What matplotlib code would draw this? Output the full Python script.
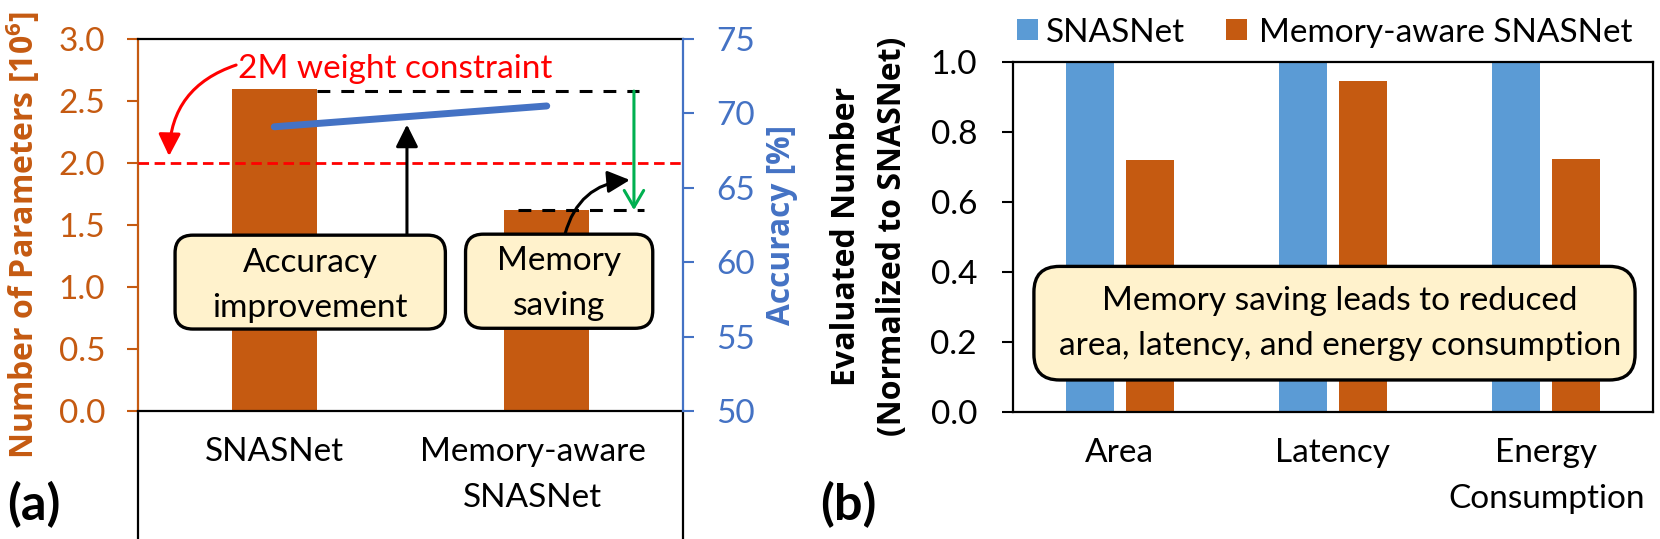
import statistics
import matplotlib
matplotlib.use('Agg')
import matplotlib.pyplot as plt
from matplotlib.patches import FancyBboxPatch, Rectangle
from matplotlib.font_manager import FontProperties
import matplotlib.transforms as mtrans

# ---------------- data ----------------
models = ['SNASNet', 'Memory-aware\nSNASNet']
params_m = [2.6, 1.62]          # number of parameters [10^6]
accuracy = [69.1, 70.5]         # accuracy [%]
weight_limit = 2.0              # 2M weight constraint
left_ticks = [0.0, 0.5, 1.0, 1.5, 2.0, 2.5, 3.0]
right_ticks = [50, 55, 60, 65, 70, 75]

metrics = ['Area', 'Latency', 'Energy\nConsumption']
series_names = ['SNASNet', 'Memory-aware SNASNet']
snasnet_norm = [1.0, 1.0, 1.0]
mem_aware_norm = [0.72, 0.946, 0.722]
b_ticks = [0.0, 0.2, 0.4, 0.6, 0.8, 1.0]

# ---------------- style ----------------
ORANGE = '#C55A11'
BLUE_BAR = '#5B9BD5'
BLUE_LINE = '#4472C4'
BOXFILL = '#FFF2CC'
GREEN = '#00B050'
FONT = 'Lato'
BFONT = 'Open Sans'

plt.rcParams['font.family'] = [FONT, 'DejaVu Sans']
plt.rcParams['mathtext.fontset'] = 'custom'
plt.rcParams['mathtext.rm'] = BFONT
plt.rcParams['mathtext.bf'] = BFONT + ':bold'

W, H = 1660, 539
fig = plt.figure(figsize=(W / 100, H / 100), dpi=100)
renderer = fig.canvas.get_renderer()


def text_w(s, family, weight='normal', size=20, ismath=False):
    fp = FontProperties(family=family, weight=weight, size=size)
    w, h, d = renderer.get_text_width_height_descent(s, fp, ismath=ismath)
    return w


def fit(s, target_px, family=FONT, weight='normal', ismath=False):
    return 20 * target_px / text_w(s, family, weight, 20, ismath)


def ls_for(target_px, size, family=FONT, weight='normal'):
    fp = FontProperties(family=family, weight=weight, size=size)
    w, h, d = renderer.get_text_width_height_descent('lp', fp, ismath=False)
    return (target_px - d) / (h - d)


PX = 100 / 72.0   # pixels per point

# common size for regular text (fit to widths measured on the reference)
samples = [('SNASNet', 139), ('Memory-aware', 240), ('improvement', 195), ('Accuracy', 128),
           ('Memory', 124), ('saving', 90), ('2M weight constraint', 334),
           ('Memory saving leads to reduced', 468),
           ('area, latency, and energy consumption', 560), ('Area', 71), ('Energy', 104),
           ('Consumption', 206), ('Memory-aware SNASNet', 390), ('3.0', 44.5)]
FS = statistics.median(fit(s, t) for s, t in samples)
LS_TICK = ls_for(46, FS)
LS_BOX = ls_for(45, FS)


def fr(x0, y_top, x1, y_bot):
    return [x0 / W, 1 - y_bot / H, (x1 - x0) / W, (y_bot - y_top) / H]


def rbox(ax, x0, y0, x1, y1, r, asp, lw=2.4):
    p = FancyBboxPatch((x0, y0), x1 - x0, y1 - y0,
                       boxstyle=f'round,pad=0,rounding_size={r}', mutation_aspect=asp,
                       facecolor=BOXFILL, edgecolor='black', lw=lw, zorder=7)
    ax.add_patch(p)


# ================= panel (a) =================
axA = fig.add_axes(fr(138, 39, 683, 411))
xa = list(range(len(models)))
bw_a = 0.312
axA.bar(xa, params_m, width=bw_a, color=ORANGE, zorder=2)
axA.set_xlim(-0.5, len(models) - 0.5)
axA.set_ylim(left_ticks[0], left_ticks[-1])
axA.set_yticks(left_ticks)
axA.set_yticklabels([f'{v:.1f}' for v in left_ticks], fontsize=FS, color=ORANGE)
axA.set_xticks(xa)
axA.set_xticklabels(models, fontsize=FS, linespacing=LS_TICK)
axA.tick_params(axis='x', length=0, pad=26 / PX)
axA.tick_params(axis='y', length=11 / PX, width=1.5, color=ORANGE, pad=22 / PX,
                direction='out')
for s in ['top', 'bottom']:
    axA.spines[s].set_color('black')
    axA.spines[s].set_linewidth(1.6)
axA.spines['left'].set_color(ORANGE)
axA.spines['left'].set_linewidth(1.6)
axA.spines['right'].set_visible(False)
lab = axA.get_xticklabels()[1]
lab.set_transform(lab.get_transform() + mtrans.ScaledTranslation(-14 / 100, 0, fig.dpi_scale_trans))

for xx in (0, 1):
    axA.plot([xx, xx], [0, -0.5], transform=axA.transAxes, color='black', lw=1.6,
             clip_on=False)

axT = axA.twinx()
axT.set_ylim(right_ticks[0], right_ticks[-1])
axT.set_yticks(right_ticks)
axT.set_yticklabels([str(v) for v in right_ticks], fontsize=FS, color=BLUE_LINE)
axT.tick_params(axis='y', length=11 / PX, width=1.5, color=BLUE_LINE, pad=22 / PX)
for s in ['top', 'bottom', 'left']:
    axT.spines[s].set_visible(False)
axT.spines['right'].set_color(BLUE_LINE)
axT.spines['right'].set_linewidth(1.6)
axT.plot(xa, accuracy, color=BLUE_LINE, lw=5, solid_capstyle='round', zorder=5)

# axis titles (placed at measured centres)
lblA = r'Number of Parameters [$\mathbf{10^{6}}$]'
fsA = fit(lblA, 447, BFONT, 'bold', ismath=True)
fig.text(23 / W, 1 - 235 / H, lblA, fontsize=fsA, fontweight='bold', family=BFONT,
         color=ORANGE, rotation=90, ha='center', va='center')
lblT = 'Accuracy [%]'
fsT = fit(lblT, 200, BFONT, 'bold')
fig.text(781 / W, 1 - 225 / H, lblT, fontsize=fsT, fontweight='bold', family=BFONT,
         color=BLUE_LINE, rotation=90, ha='center', va='center')

# 2M constraint
axA.axhline(weight_limit, color='red', lw=2, ls=(0, (3.8, 2.0)), zorder=3)
axA.text(-0.133, 2.686, '2M weight constraint', color='red', fontsize=FS,
         ha='left', va='baseline', zorder=6)
axA.annotate('', xy=(-0.386, 2.056), xytext=(-0.14, 2.79),
             arrowprops=dict(arrowstyle='-|>,head_length=0.9,head_width=0.45', color='red',
                             lw=2.2, connectionstyle='arc3,rad=0.35', shrinkA=0, shrinkB=0,
                             mutation_scale=15), zorder=6)

axA.plot([bw_a / 2, 1.338], [params_m[0] - 0.02] * 2, color='black', lw=2.2,
         ls=(0, (4.2, 3.6)), zorder=4)
axA.plot([0.894, 1.357], [params_m[1]] * 2, color='black', lw=2.2,
         ls=(0, (4.2, 3.6)), zorder=4)
axA.annotate('', xy=(1.32, params_m[1]), xytext=(1.32, params_m[0] - 0.02),
             arrowprops=dict(arrowstyle='->,head_length=0.6,head_width=0.35', color=GREEN,
                             lw=2.2, shrinkA=0, shrinkB=0, mutation_scale=20), zorder=6)

asp_a = (545 / 2) / (372 / 3)
rbox(axA, -0.364, 0.661, 0.628, 1.418, 0.065, asp_a)
axA.text(0.132, 1.012, 'Accuracy\nimprovement', fontsize=FS, ha='center', va='center',
         linespacing=LS_BOX, zorder=8)
rbox(axA, 0.702, 0.667, 1.389, 1.426, 0.065, asp_a)
axA.text(1.045, 1.028, 'Memory\nsaving', fontsize=FS, ha='center', va='center',
         linespacing=LS_BOX, zorder=8)

axA.annotate('', xy=(0.487, 2.31), xytext=(0.487, 1.418),
             arrowprops=dict(arrowstyle='-|>,head_length=0.9,head_width=0.45', color='black',
                             lw=2.2, shrinkA=0, shrinkB=0, mutation_scale=15), zorder=6)
axA.annotate('', xy=(1.305, 1.863), xytext=(1.067, 1.426),
             arrowprops=dict(arrowstyle='-|>,head_length=0.9,head_width=0.45', color='black',
                             lw=2.2, connectionstyle='arc3,rad=-0.35', shrinkA=0, shrinkB=0,
                             mutation_scale=15), zorder=6)

fsP = fit('(a)', 53, FONT, 'bold')
fig.text(7 / W, 1 - 505 / H, '(a)', fontsize=fsP, fontweight='bold', ha='left', va='center')

# ================= panel (b) =================
axB = fig.add_axes(fr(1013, 62, 1653, 412))
xb = list(range(len(metrics)))
bw_b = 0.225
off = 0.141
axB.bar([v - off for v in xb], snasnet_norm, width=bw_b, color=BLUE_BAR, zorder=2)
axB.bar([v + off for v in xb], mem_aware_norm, width=bw_b, color=ORANGE, zorder=2)
axB.set_xlim(-0.5, len(metrics) - 0.5)
axB.set_ylim(b_ticks[0], b_ticks[-1])
axB.set_yticks(b_ticks)
axB.set_yticklabels([f'{v:.1f}' for v in b_ticks], fontsize=FS)
axB.set_xticks(xb)
axB.set_xticklabels(metrics, fontsize=FS, linespacing=LS_TICK)
axB.tick_params(axis='x', length=0, pad=26 / PX)
axB.tick_params(axis='y', length=11 / PX, width=1.5, pad=25 / PX)
for s in axB.spines.values():
    s.set_color('black')
    s.set_linewidth(1.6)

lblB = 'Evaluated Number\n(Normalized to SNASNet)'
fsB = fit('(Normalized to SNASNet)', 399, BFONT, 'bold')
fig.text(869 / W, 1 - 236 / H, lblB, fontsize=fsB, fontweight='bold', family=BFONT,
         rotation=90, ha='center', va='center', linespacing=ls_for(46, fsB, BFONT, 'bold'))

asp_b = (640 / 3) / 350
rbox(axB, -0.402, 0.0915, 2.416, 0.416, 0.12, asp_b)
axB.text(1.033, 0.252, 'Memory saving leads to reduced\narea, latency, and energy consumption',
         fontsize=FS, ha='center', va='center', linespacing=LS_BOX, zorder=8)

# legend (squares + names) above panel (b)
leg_sq = [(1017, 1038), (1226, 1247)]
leg_tx = [1046, 1259]
for (x0, x1), tx, name, col in zip(leg_sq, leg_tx, series_names, [BLUE_BAR, ORANGE]):
    fig.patches.append(Rectangle((x0 / W, 1 - 40 / H), (x1 - x0) / W, 21 / H,
                                 transform=fig.transFigure, facecolor=col, edgecolor='none'))
    fig.text(tx / W, 1 - 42 / H, name, fontsize=FS, ha='left', va='baseline')

fig.text(820 / W, 1 - 505 / H, '(b)', fontsize=fsP, fontweight='bold', ha='left', va='center')

fig.savefig('out.png', dpi=100)
